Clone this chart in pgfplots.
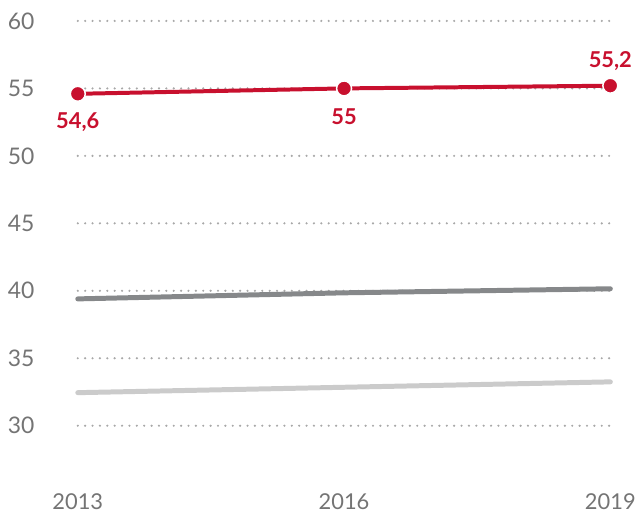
\documentclass[border=0pt]{standalone}
\usepackage{pgfplots}
\pgfplotsset{compat=1.18}
\usepackage{fontspec}
\setmainfont{Lato}
\definecolor{cred}{HTML}{C8102E}
\definecolor{cdark}{HTML}{86888A}
\definecolor{clight}{HTML}{CBCBCB}
\definecolor{ctext}{HTML}{747474}
\definecolor{cgrid}{HTML}{A8A8A8}
\begin{document}
\begin{tikzpicture}[x=1bp,y=1bp]
\begin{axis}[
  scale only axis,
  width=534bp, height=460bp,
  xmin=2013, xmax=2019,
  ymin=26, ymax=60,
  axis lines=none,
  clip=false,
  xtick={2013,2016,2019},
  ytick={30,35,40,45,50,55,60},
  /pgf/number format/assume math mode=true,
  /pgf/number format/1000 sep={},
  tick style={draw=none},
]
% grid lines
\foreach \yy in {30,35,40,45,50,55,60}{
  \edef\tmp{\noexpand\draw[cgrid, line width=2.4bp, line cap=round, dash pattern=on 0bp off 7.4bp] (axis cs:2013,\yy) -- (axis cs:2019,\yy);
  \noexpand\node[anchor=east, font=\noexpand\fontsize{23}{27}\noexpand\selectfont, text=ctext] at ([xshift=-40bp]axis cs:2013,\yy) {\yy};}
  \tmp
}
\foreach \xx in {2013,2016,2019}{
  \edef\tmp{\noexpand\node[font=\noexpand\fontsize{22}{26}\noexpand\selectfont, text=ctext] at ([yshift=-22bp]axis cs:\xx,26) {\xx};}
  \tmp
}
\addplot[clight, line width=5bp, line cap=round] coordinates {(2013,32.45) (2016,32.85) (2019,33.25)};
\addplot[cdark, line width=5bp, line cap=round] coordinates {(2013,39.4) (2016,39.85) (2019,40.15)};
\addplot[cred, line width=4bp, mark=*, mark size=7.5bp, mark options={fill=cred, draw=white, line width=1.5bp}] coordinates {(2013,54.6) (2016,55) (2019,55.2)};
\addplot[draw=none, point meta=explicit symbolic, nodes near coords,
  nodes near coords style={anchor=center, yshift=-28bp, text=cred, font=\fontsize{22}{26}\selectfont\bfseries}]
  coordinates {(2013,54.6) [54,6] (2016,55) [55]};
\addplot[draw=none, point meta=explicit symbolic, nodes near coords,
  nodes near coords style={anchor=center, yshift=25bp, text=cred, font=\fontsize{22}{26}\selectfont\bfseries}]
  coordinates {(2019,55.2) [55,2]};
\end{axis}
\path ([xshift=-78bp,yshift=-42bp]current axis.south west) rectangle ([xshift=27bp,yshift=21bp]current axis.north east);
\end{tikzpicture}
\end{document}
